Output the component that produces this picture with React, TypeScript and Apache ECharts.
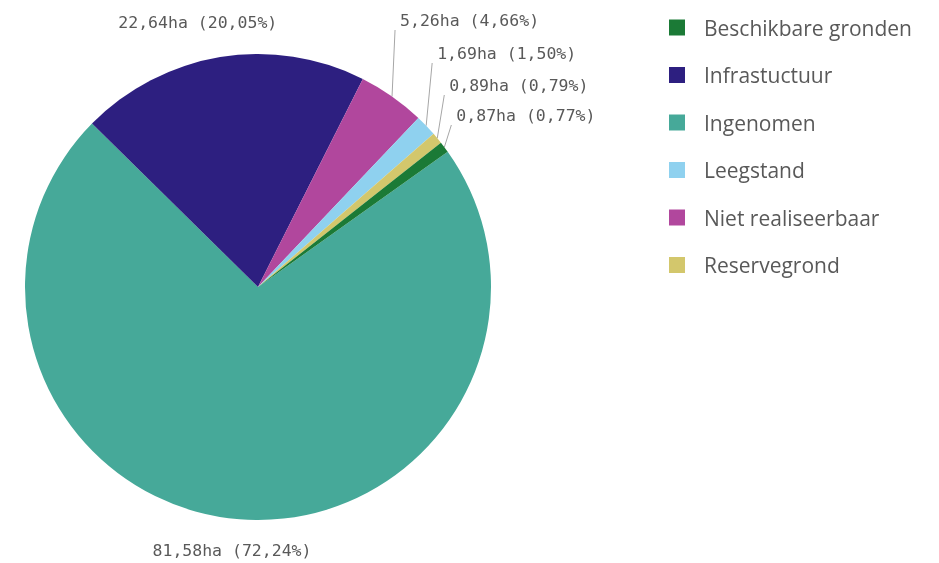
import React, { useEffect, useRef } from "react";
import * as echarts from "echarts";

// Data (in slice order, clockwise)
const categories = ["Ingenomen", "Infrastuctuur", "Niet realiseerbaar", "Leegstand", "Reservegrond", "Beschikbare gronden"];
const values = [81.58, 22.64, 5.26, 1.69, 0.89, 0.87];
const legendOrder = ["Beschikbare gronden", "Infrastuctuur", "Ingenomen", "Leegstand", "Niet realiseerbaar", "Reservegrond"];

// Styles
const colors: Record<string, string> = {
  "Beschikbare gronden": "#1b7a36",
  "Infrastuctuur": "#2d1f80",
  "Ingenomen": "#46a999",
  "Leegstand": "#8fd1ef",
  "Niet realiseerbaar": "#b1479d",
  "Reservegrond": "#d3c76c",
};
const CX = 258;
const CY = 287;
const R = 233;
const START_ANGLE = 35.5; // echarts degrees (ccw from 3 o'clock)
// leader line tops for small slices (by category)
const leaderTop: Record<string, { dx: number; y: number }> = {
  "Niet realiseerbaar": { dx: 3, y: 30 },
  "Leegstand": { dx: 6, y: 63 },
  "Reservegrond": { dx: 7, y: 95 },
  "Beschikbare gronden": { dx: 7, y: 125 },
};
// nudges for labels without leader lines
const labelNudge: Record<string, [number, number]> = {
  "Infrastuctuur": [-17, -2],
  "Ingenomen": [-5, -2],
};
const RADIAL_OFFSET = 33;

const fmt = (n: number) => n.toFixed(2).replace(".", ",");

export default function App() {
  const ref = useRef<HTMLDivElement>(null);
  useEffect(() => {
    if (!ref.current) return;
    const chart = echarts.init(ref.current, undefined, { renderer: "svg" });
    const total = values.reduce((a, b) => a + b, 0);
    const mids: number[] = [];
    let cum = 0;
    values.forEach((v) => {
      mids.push(90 - START_ANGLE + ((cum + v / 2) / total) * 360);
      cum += v;
    });

    const data = categories.map((c, i) => ({
      name: c,
      value: values[i],
      itemStyle: { color: colors[c] },
      labelLine: { show: !!leaderTop[c] },
    }));

    chart.setOption({
      animation: false,
      legend: {
        data: legendOrder,
        orient: "vertical",
        left: 664,
        top: 12,
        icon: "rect",
        itemWidth: 16,
        itemHeight: 16,
        itemGap: 26.5,
        selectedMode: false,
        textStyle: {
          fontFamily: "Open Sans",
          fontSize: 21,
          color: "#595959",
          lineHeight: 20,
          padding: [0, 0, 0, 14],
        },
      },
      series: [
        {
          type: "pie",
          center: [CX, CY],
          radius: R,
          startAngle: START_ANGLE,
          clockwise: true,
          avoidLabelOverlap: false,
          data,
          label: {
            show: true,
            position: "outside",
            fontFamily: "DejaVu Sans Mono",
            fontSize: 16.5,
            color: "#595959",
            formatter: (p: any) => `${fmt(p.value)}ha (${fmt((p.value / total) * 100)}%)`,
          },
          labelLine: {
            length: 10,
            length2: 0,
            lineStyle: { color: "#a6a6a6", width: 1 },
          },
          labelLayout: (p: any) => {
            const i = p.dataIndex;
            const c = categories[i];
            const th = (mids[i] * Math.PI) / 180;
            const ax = CX + R * Math.sin(th);
            const ay = CY - R * Math.cos(th);
            const lt = leaderTop[c];
            if (lt) {
              const tx = ax + lt.dx;
              const ty = lt.y;
              return {
                x: tx + 5,
                y: ty - 1,
                align: "left",
                verticalAlign: "bottom",
                labelLinePoints: [
                  [ax, ay],
                  [tx, ty],
                  [tx, ty],
                ],
              };
            }
            const n = labelNudge[c] || [0, 0];
            return {
              x: ax + RADIAL_OFFSET * Math.sin(th) + n[0],
              y: ay - RADIAL_OFFSET * Math.cos(th) + n[1],
              align: "center",
              verticalAlign: "middle",
            };
          },
          emphasis: { disabled: true },
        },
      ],
    });
    return () => chart.dispose();
  }, []);
  return <div ref={ref} style={{ position: "fixed", left: 0, top: 0, width: 939, height: 563 }} />;
}
